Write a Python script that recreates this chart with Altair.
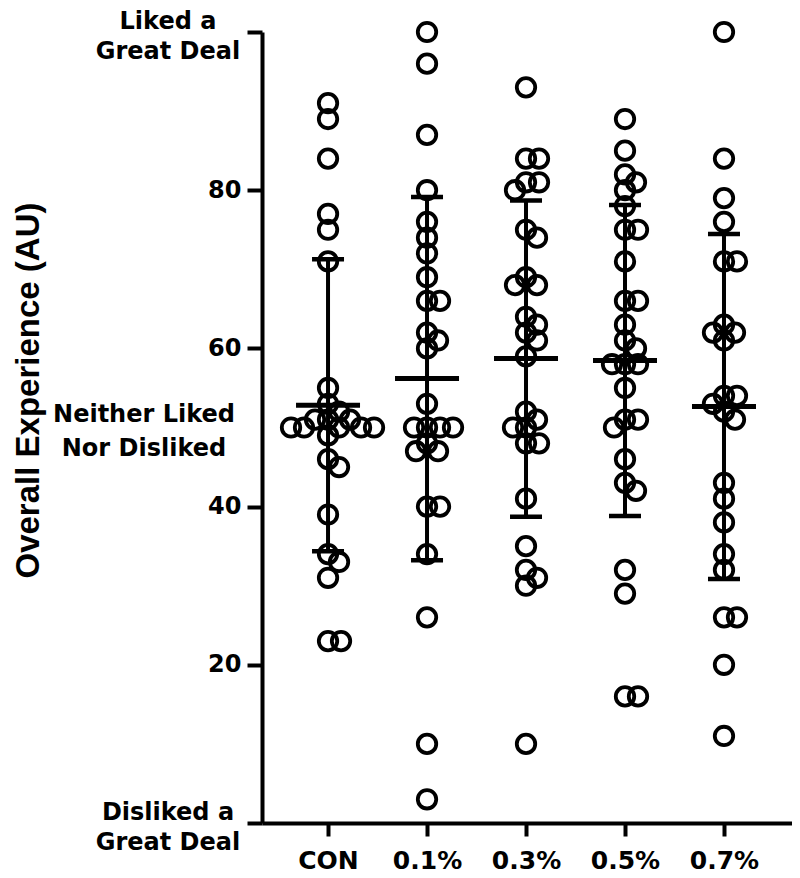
import altair as alt
import pandas as pd
import math

categories = ["CON", "0.1%", "0.3%", "0.5%", "0.7%"]

con = [91, 89, 84, 77, 75, 71, 55, 53, 52, 51, 51, 51, 50, 50, 50, 50, 50, 49,
       46, 45, 39, 34, 33, 31, 23, 23]
p01 = [100, 96, 87, 80, 76, 74, 72, 69, 66, 66, 62, 61, 60, 53, 50, 50, 50, 50,
       48, 47, 47, 40, 40, 34, 26, 10, 3]
p03 = [93, 84, 84, 81, 81, 80, 75, 74, 69, 68, 68, 64, 63, 62, 61, 59, 52, 51,
       50, 50, 48, 48, 41, 35, 32, 31, 30, 10]
p05 = [89, 85, 82, 81, 80, 78, 75, 75, 71, 66, 66, 63, 61, 60, 58, 58, 58, 55,
       51, 51, 50, 46, 43, 42, 32, 29, 16, 16]
p07 = [100, 84, 79, 76, 71, 71, 63, 62, 62, 61, 54, 54, 53, 52, 51, 43, 41, 38,
       34, 32, 26, 26, 20, 11]

groups = [con, p01, p03, p05, p07]

y_ticks = [0, 20, 40, 60, 80, 100]
side_labels_ends = [(100, "Liked a\nGreat Deal"), (0, "Disliked a\nGreat Deal")]
side_labels_mid = [(50, "Neither Liked\nNor Disliked")]

# plot geometry (used for the beeswarm layout only)
W, H = 530, 791
X_MIN, X_MAX = -0.667, 4.687
PX_PER_CAT = W / (X_MAX - X_MIN)
PX_PER_UNIT = H / 100.0
D = 13.0  # min centre distance between circles in px


def beeswarm(vals):
    placed = []
    out = {}
    order = sorted(range(len(vals)), key=lambda i: -vals[i])
    for i in order:
        ypx = vals[i] * PX_PER_UNIT
        best = None
        k = 0
        while best is None:
            for cand in ([0.0] if k == 0 else [k * 1.0, -k * 1.0]):
                if all(math.hypot(cand - px, ypx - py) >= D for px, py in placed):
                    best = cand
                    break
            k += 1
        placed.append((best, ypx))
        out[i] = best
    return [out[i] for i in range(len(vals))]


rows = []
for gi, (cat, vals) in enumerate(zip(categories, groups)):
    offs = beeswarm(vals)
    for v, o in zip(vals, offs):
        rows.append({"group": cat, "idx": gi, "value": v, "xpos": gi + o / PX_PER_CAT})
df = pd.DataFrame(rows)

label_expr = "[" + ",".join("'%s'" % c for c in categories) + "][datum.value]"

x_enc = alt.X(
    "xpos:Q",
    scale=alt.Scale(domain=[X_MIN, X_MAX], nice=False, zero=False),
    axis=alt.Axis(
        values=list(range(len(categories))), labelExpr=label_expr, title=None,
        grid=False, tickSize=13, tickWidth=4, tickColor="black",
        domainWidth=4, domainColor="black", labelFont="DejaVu Sans",
        labelFontWeight="bold", labelFontSize=25, labelColor="black",
        labelPadding=12,
    ),
)
y_scale = alt.Scale(domain=[0, 100], nice=False)
y_enc = alt.Y(
    "value:Q",
    scale=y_scale,
    axis=alt.Axis(
        values=y_ticks,
        labelExpr="datum.value == 0 || datum.value == 100 ? '' : datum.label",
        grid=False, tickSize=15, tickWidth=4, tickColor="black",
        domainWidth=4, domainColor="black", labelFont="DejaVu Sans",
        labelFontWeight="bold", labelFontSize=24, labelColor="black",
        labelPadding=6,
        title="Overall Experience (AU)", titleFont="Liberation Sans",
        titleFontSize=33, titleFontWeight="bold", titleColor="black",
        titleAngle=270, titleAlign="center", titleBaseline="middle",
        titleX=-234, titleY=358,
    ),
)

points = alt.Chart(df).mark_point(
    shape="circle", size=340, filled=False, stroke="black", strokeWidth=3.8,
    opacity=1,
).encode(x=x_enc, y=y_enc)

stats = alt.Chart(df).transform_aggregate(
    mean="mean(value)", sd="stdev(value)", groupby=["idx"]
).transform_calculate(
    lo="datum.mean - datum.sd", hi="datum.mean + datum.sd"
)

vline = stats.mark_rule(color="black", strokeWidth=4).encode(
    x=alt.X("idx:Q"), y=alt.Y("lo:Q"), y2="hi:Q"
)
cap_hi = stats.mark_tick(orient="horizontal", size=32, thickness=4.5, color="black", opacity=1).encode(
    x=alt.X("idx:Q"), y=alt.Y("hi:Q")
)
cap_lo = stats.mark_tick(orient="horizontal", size=32, thickness=4.5, color="black", opacity=1).encode(
    x=alt.X("idx:Q"), y=alt.Y("lo:Q")
)
mean_line = stats.mark_tick(orient="horizontal", size=64, thickness=5, color="black", opacity=1).encode(
    x=alt.X("idx:Q"), y=alt.Y("mean:Q")
)

ends_df = pd.DataFrame(side_labels_ends, columns=["value", "text"])
mid_df = pd.DataFrame(side_labels_mid, columns=["value", "text"])

ends_text = alt.Chart(ends_df).mark_text(
    font="DejaVu Sans", fontWeight="bold", fontSize=24, lineBreak="\n",
    lineHeight=30, align="center", baseline="middle", dy=-10, color="black",
).encode(x=alt.value(-94), y=alt.Y("value:Q", scale=y_scale), text="text:N")

mid_text = alt.Chart(mid_df).mark_text(
    font="DejaVu Sans", fontWeight="bold", fontSize=24, lineBreak="\n",
    lineHeight=34, align="center", baseline="middle", dy=-13, color="black",
).encode(x=alt.value(-118), y=alt.Y("value:Q", scale=y_scale), text="text:N")

chart = alt.layer(points, vline, cap_hi, cap_lo, mean_line, ends_text, mid_text).properties(
    width=W, height=H, background="white",
    autosize=alt.AutoSizeParams(type="none"),
    padding={"left": 254, "top": 24, "right": 0, "bottom": 55},
).configure_view(stroke=None)

chart.save("out.html", embed_options={"renderer": "svg", "actions": False})
